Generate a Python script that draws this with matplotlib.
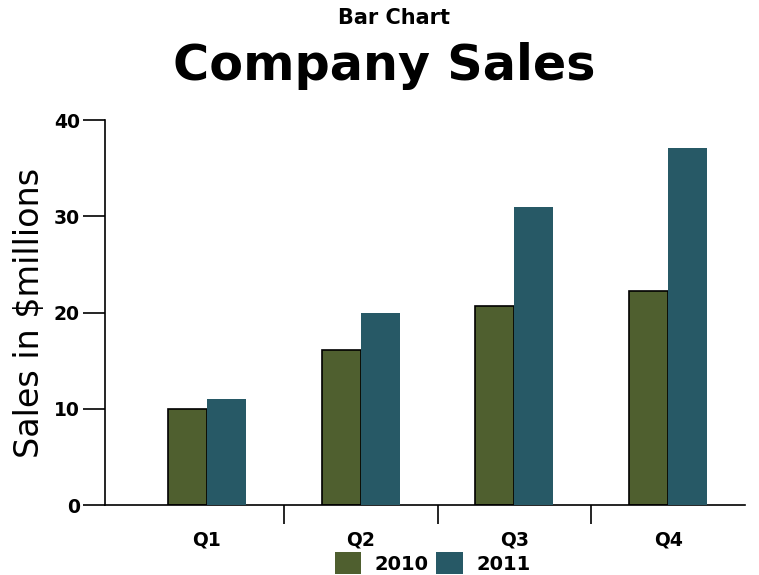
import numpy as np
import matplotlib.pyplot as plt
from matplotlib.ticker import FixedLocator

quarters = ['Q1', 'Q2', 'Q3', 'Q4']
sales_2010 = [10, 16.1, 20.7, 22.2]
sales_2011 = [11, 20, 31, 37.1]
y_ticks = [0, 10, 20, 30, 40]

color_2010 = '#4f5f2f'
color_2011 = '#275966'

plt.rcParams['font.family'] = ['DejaVu Sans']

fig = plt.figure(figsize=(7.59, 5.75), dpi=100)
ax = fig.add_axes([0.1383, 0.1217, 0.8433, 0.6696])

x = np.arange(len(quarters))
w = 0.254
ax.bar(x - w / 2, sales_2010, w, color=color_2010, edgecolor='black', linewidth=1.2, label='2010', zorder=2)
ax.bar(x + w / 2, sales_2011, w, color=color_2011, linewidth=0, label='2011', zorder=3)

ax.set_xlim(-0.663, 3.5)
ax.set_ylim(0, 40)
ax.set_yticks(y_ticks)
ax.set_xticks(x)
ax.set_xticklabels(quarters, fontsize=13.5, fontweight='bold')
ax.xaxis.set_minor_locator(FixedLocator([0.5, 1.5, 2.5]))
ax.tick_params(axis='x', which='major', length=0, pad=18)
ax.tick_params(axis='x', which='minor', length=14, width=1.2, direction='out')
ax.tick_params(axis='y', length=16, width=1.2, pad=2)
for lbl in ax.get_yticklabels():
    lbl.set_fontsize(13.5)
    lbl.set_fontweight('bold')

for side in ['top', 'right']:
    ax.spines[side].set_visible(False)
for side in ['left', 'bottom']:
    ax.spines[side].set_linewidth(1.2)

ax.set_ylabel('Sales in $millions', fontsize=24, labelpad=6)

fig.text(0.519, 0.968, 'Bar Chart', ha='center', va='center', fontsize=15, fontweight='bold')
fig.text(0.506, 0.885, 'Company Sales', ha='center', va='center', fontsize=35.5, fontweight='bold')

leg = fig.legend(loc='lower left', bbox_to_anchor=(327 / 759, -0.012), ncol=2, frameon=False,
                 prop={'size': 14, 'weight': 'bold'}, handlelength=1.35, handleheight=1.35,
                 columnspacing=0.4, handletextpad=0.7, borderaxespad=0)
leg.legend_handles[0].set_edgecolor('none')

fig.savefig('out.png', dpi=100)
